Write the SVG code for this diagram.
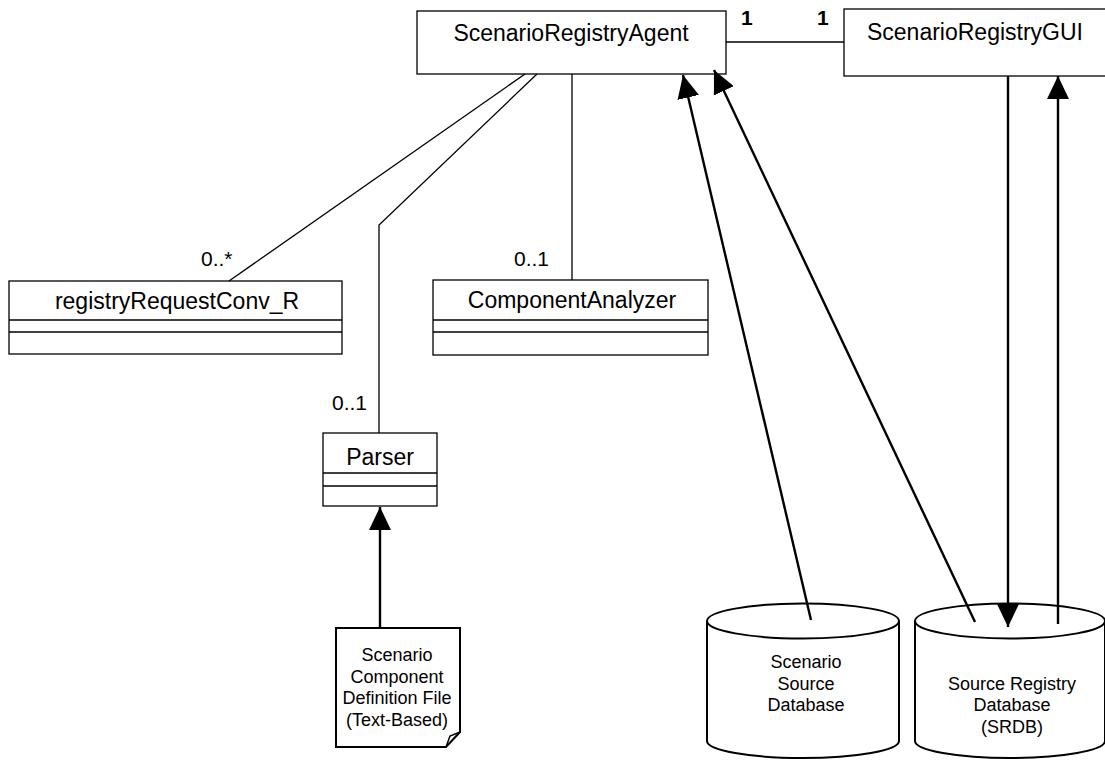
<svg xmlns="http://www.w3.org/2000/svg" width="1105" height="762" viewBox="0 0 1105 762">
  <style>
    .box { fill: #ffffff; stroke: #000; stroke-width: 1.3; }
    .sep { stroke: #000; stroke-width: 1.3; }
    .assoc { fill: none; stroke: #000; stroke-width: 1.3; }
    .dep { fill: none; stroke: #000; stroke-width: 2.4; marker-end: url(#head); }
    .shape { fill: #ffffff; stroke: #000; stroke-width: 2; }
    .name { font-family: "Liberation Sans", Arial, sans-serif; font-size: 23px; fill: #000; text-anchor: middle; }
    .mult { font-family: "Liberation Sans", Arial, sans-serif; font-size: 21px; fill: #000; }
    .small { font-family: "Liberation Sans", Arial, sans-serif; font-size: 18px; fill: #000; text-anchor: middle; }
  </style>
  <defs>
    <marker id="head" markerUnits="userSpaceOnUse" markerWidth="24" markerHeight="22" refX="23" refY="11" orient="auto">
      <path d="M0,0 L23,11 L0,22 Z" fill="#000"/>
    </marker>
  </defs>

  <!-- classes -->
  <g id="scenario-registry-agent">
    <rect class="box" x="417" y="11" width="309" height="63"/>
    <text class="name" x="571" y="41">ScenarioRegistryAgent</text>
  </g>

  <g id="scenario-registry-gui">
    <rect class="box" x="844" y="9" width="270" height="67"/>
    <text class="name" x="975" y="40">ScenarioRegistryGUI</text>
  </g>

  <g id="registry-request-conv">
    <rect class="box" x="9" y="281" width="333" height="73"/>
    <line class="sep" x1="9" y1="320" x2="342" y2="320"/>
    <line class="sep" x1="9" y1="332" x2="342" y2="332"/>
    <text class="name" x="177" y="309">registryRequestConv_R</text>
  </g>

  <g id="component-analyzer">
    <rect class="box" x="433" y="280" width="275" height="75"/>
    <line class="sep" x1="433" y1="320" x2="708" y2="320"/>
    <line class="sep" x1="433" y1="332" x2="708" y2="332"/>
    <text class="name" x="572" y="308">ComponentAnalyzer</text>
  </g>

  <g id="parser">
    <rect class="box" x="323" y="433" width="114" height="73"/>
    <line class="sep" x1="323" y1="473" x2="437" y2="473"/>
    <line class="sep" x1="323" y1="486" x2="437" y2="486"/>
    <text class="name" x="380" y="465">Parser</text>
  </g>

  <!-- text file note with folded corner -->
  <g id="definition-file">
    <path class="shape" d="M336,628 L460,628 L460,732 L446,747 L336,747 Z"/>
    <path fill="none" stroke="#000" stroke-width="1.5" d="M460,732 L450,736 L446,747"/>
    <text class="small" x="397" y="661">Scenario</text>
    <text class="small" x="397" y="683">Component</text>
    <text class="small" x="397" y="704">Definition File</text>
    <text class="small" x="397" y="726">(Text-Based)</text>
  </g>

  <!-- databases -->
  <g id="scenario-source-db">
    <path class="shape" d="M707,621 L707,741 A96,17 0 0 0 899,741 L899,621"/>
    <ellipse class="shape" cx="803" cy="621" rx="96" ry="17.5"/>
    <text class="small" x="806" y="668">Scenario</text>
    <text class="small" x="806" y="690">Source</text>
    <text class="small" x="806" y="711">Database</text>
  </g>

  <g id="source-registry-db">
    <path class="shape" d="M915,621 L915,741 A95,17 0 0 0 1105,741 L1105,621"/>
    <ellipse class="shape" cx="1010" cy="621" rx="95" ry="17.5"/>
    <text class="small" x="1012" y="690">Source Registry</text>
    <text class="small" x="1012" y="711">Database</text>
    <text class="small" x="1012" y="733">(SRDB)</text>
  </g>

  <!-- connectors -->
  <g id="connectors">
    <line class="assoc" x1="726" y1="42" x2="844" y2="42"/>
    <text class="mult" x="741" y="25" font-weight="bold">1</text>
    <text class="mult" x="817" y="25" font-weight="bold">1</text>

    <line class="assoc" x1="525" y1="74" x2="229" y2="281"/>
    <text class="mult" x="201" y="266">0..*</text>

    <polyline class="assoc" points="537,74 379,225 379,433"/>
    <text class="mult" x="332" y="410">0..1</text>

    <line class="assoc" x1="572" y1="74" x2="572" y2="280"/>
    <text class="mult" x="514" y="266">0..1</text>

    <line class="dep" x1="380" y1="628" x2="380" y2="507"/>
    <line class="dep" x1="811" y1="620" x2="683" y2="75"/>
    <line class="dep" x1="975" y1="622" x2="714" y2="70"/>
    <line class="dep" x1="1008" y1="76" x2="1008" y2="627"/>
    <line class="dep" x1="1058" y1="624" x2="1058" y2="76"/>
  </g>
</svg>
